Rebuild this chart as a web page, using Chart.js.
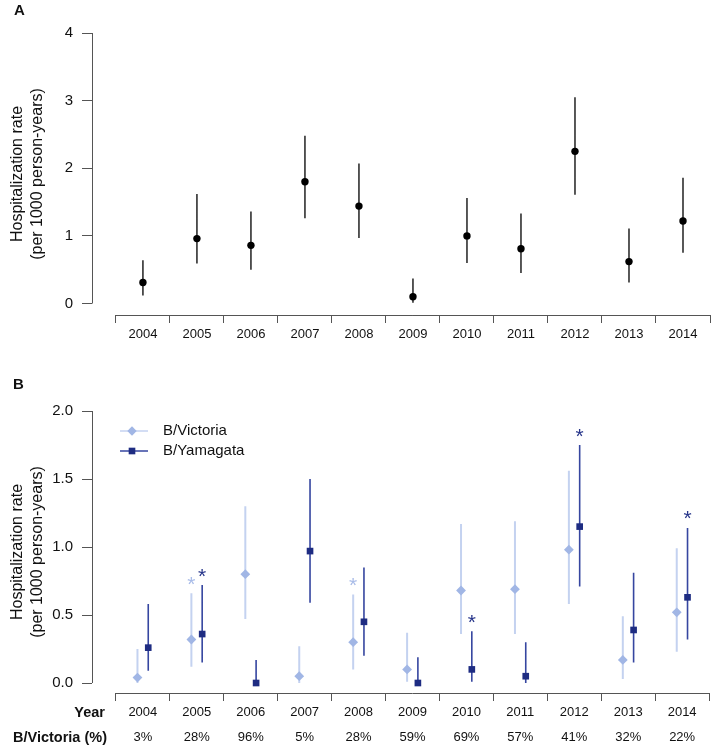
<!DOCTYPE html>
<html>
<head>
<meta charset="utf-8">
<script src="https://cdn.jsdelivr.net/npm/chart.js@4.4.1/dist/chart.umd.min.js"></script>
<style>
  body { margin: 0; background: #fff; }
  #wrap { position: relative; width: 714px; height: 747px; }
  canvas { position: absolute; left: 0; }
</style>
</head>
<body>
<div id="wrap">
  <canvas id="chartA" width="714" height="350" style="top:0"></canvas>
  <canvas id="chartB" width="714" height="397" style="top:350px"></canvas>
</div>
<script>
// data
const years = [2004, 2005, 2006, 2007, 2008, 2009, 2010, 2011, 2012, 2013, 2014];

// panel A: all influenza B
const rateAll = [0.31, 0.96, 0.86, 1.80, 1.44, 0.10, 1.00, 0.81, 2.25, 0.62, 1.22];
const lowAll  = [0.12, 0.59, 0.50, 1.26, 0.97, 0.01, 0.60, 0.45, 1.61, 0.31, 0.75];
const highAll = [0.64, 1.62, 1.36, 2.48, 2.07, 0.37, 1.56, 1.33, 3.05, 1.11, 1.86];

// panel B: by lineage
const vicRate = [0.04, 0.32, 0.80, 0.05, 0.30, 0.10, 0.68, 0.69, 0.98, 0.17, 0.52];
const vicLow  = [0.00, 0.12, 0.47, 0.00, 0.10, 0.01, 0.36, 0.36, 0.58, 0.03, 0.23];
const vicHigh = [0.25, 0.66, 1.30, 0.27, 0.65, 0.37, 1.17, 1.19, 1.56, 0.49, 0.99];
const yamRate = [0.26, 0.36, 0.00, 0.97, 0.45, 0.00, 0.10, 0.05, 1.15, 0.39, 0.63];
const yamLow  = [0.09, 0.15, 0.00, 0.59, 0.20, 0.00, 0.01, 0.00, 0.71, 0.15, 0.32];
const yamHigh = [0.58, 0.72, 0.17, 1.50, 0.85, 0.19, 0.38, 0.30, 1.75, 0.81, 1.14];
const vicStarYears = [2005, 2008];
const yamStarYears = [2005, 2010, 2012, 2014];
const vicPct = ["3%", "28%", "96%", "5%", "28%", "59%", "69%", "57%", "41%", "32%", "22%"];

const ticksA = [0, 1, 2, 3, 4];
const ticksB = [0, 0.5, 1.0, 1.5, 2.0];
const yTitle = ["Hospitalization rate", "(per 1000 person-years)"];

// styling
const FONT = '"Liberation Sans", Arial, Helvetica, sans-serif';
const AXIS = "#555";
const VIC_PT = "#a1b6e5", VIC_CI = "#c4d2f0";
const YAM_PT = "#1e2c82", YAM_CI = "#3646a0";
const OFF = 0.1;             // lineage dodge, in years
const XMIN = 2003.057;       // leaves the R-style gap before the first tick
const XMAX = years[years.length - 1] + 0.5;

Chart.defaults.font.family = FONT;
Chart.defaults.color = "#111";

const pts = (xs, ys) => xs.map((x, i) => ({ x: x, y: ys[i] }));
const ciPts = (xs, lo, hi) => {
  const out = [];
  xs.forEach((x, i) => out.push({ x: x, y: lo[i] }, { x: x, y: hi[i] }, { x: x, y: null }));
  return out;
};
const shift = d => years.map(y => y + d);

function xAxis(height, pad, font, labelFn) {
  return {
    type: "linear", min: XMIN, max: XMAX,
    afterBuildTicks: s => {
      const t = [];
      for (let v = years[0] - 0.5; v <= XMAX; v += 0.5) t.push({ value: v });
      s.ticks = t;
    },
    afterFit: s => { s.height = height; },
    border: { display: false },
    grid: {
      drawOnChartArea: false, tickLength: 8, tickWidth: 1,
      tickColor: c => Number.isInteger(c.tick.value) ? "rgba(0,0,0,0)" : AXIS
    },
    ticks: {
      autoSkip: false, maxRotation: 0, minRotation: 0, padding: pad, font: font, color: "#111",
      callback: v => Number.isInteger(v) ? labelFn(v) : ""
    }
  };
}

function yAxis(min, max, tickVals, dec) {
  return {
    type: "linear", min: min, max: max,
    afterBuildTicks: s => { s.ticks = tickVals.map(v => ({ value: v })); },
    afterFit: s => { s.width = 92; },
    border: { display: false },
    grid: { drawOnChartArea: false, tickLength: 10, tickWidth: 1, tickColor: AXIS },
    ticks: { padding: 9, font: { size: 15 }, color: "#111", callback: v => v.toFixed(dec) },
    title: {
      display: true, text: yTitle, color: "#111",
      font: { size: 16, lineHeight: 1.25 }, padding: { top: 8, bottom: 0 }
    }
  };
}

// R-like detached axis lines, plus fixed labels
const rAxes = {
  id: "rAxes",
  afterDraw(chart, args, opts) {
    const { ctx, chartArea: a, scales: { x, y } } = chart;
    ctx.save();
    ctx.strokeStyle = AXIS;
    ctx.lineWidth = 1;
    ctx.beginPath();
    const lx = Math.round(a.left) + 0.5, by = Math.round(a.bottom) + 0.5;
    ctx.moveTo(lx, y.getPixelForValue(opts.yLo));
    ctx.lineTo(lx, y.getPixelForValue(opts.yHi));
    ctx.moveTo(x.getPixelForValue(years[0] - 0.5), by);
    ctx.lineTo(x.getPixelForValue(XMAX), by);
    ctx.stroke();
    ctx.fillStyle = "#111";
    ctx.textBaseline = "middle";
    (opts.texts || []).forEach(t => {
      ctx.font = t.font;
      ctx.textAlign = t.align || "left";
      ctx.fillText(t.text, t.x, t.y);
    });
    ctx.restore();
  }
};

// significance asterisks above the CI tops
const stars = {
  id: "stars",
  afterDatasetsDraw(chart, args, opts) {
    const { ctx, scales: { x, y } } = chart;
    ctx.save();
    ctx.font = "21px " + FONT;
    ctx.textAlign = "center";
    ctx.textBaseline = "alphabetic";
    const m = ctx.measureText("*");
    const adj = (m.actualBoundingBoxAscent - m.actualBoundingBoxDescent) / 2;
    (opts.sets || []).forEach(s => {
      ctx.fillStyle = s.color;
      s.years.forEach(yr => {
        const i = years.indexOf(yr);
        const px = x.getPixelForValue(yr + s.off);
        const py = y.getPixelForValue(s.high[i]) - 12.5;
        ctx.fillText("*", px, py + adj);
      });
    });
    ctx.restore();
  }
};

// legend drawn R-style (line through marker) inside the plot
const rLegend = {
  id: "rLegend",
  afterDraw(chart, args, opts) {
    const ctx = chart.ctx;
    ctx.save();
    (opts.items || []).forEach((it, k) => {
      const yy = opts.y + k * opts.gap;
      ctx.strokeStyle = it.line;
      ctx.lineWidth = 1.5;
      ctx.beginPath();
      ctx.moveTo(opts.x, yy);
      ctx.lineTo(opts.x + 28, yy);
      ctx.stroke();
      ctx.fillStyle = it.color;
      ctx.strokeStyle = it.color;
      Chart.helpers.drawPoint(ctx, { pointStyle: it.style, radius: 4.7, rotation: 0, borderWidth: 0 }, opts.x + 12, yy);
      ctx.fillStyle = "#111";
      ctx.font = "15px " + FONT;
      ctx.textAlign = "left";
      ctx.textBaseline = "middle";
      ctx.fillText(it.text, opts.x + 43, yy);
    });
    ctx.restore();
  }
};

// Panel A
new Chart(document.getElementById("chartA"), {
  type: "line",
  data: {
    datasets: [
      {
        label: "Influenza B", data: pts(years, rateAll), showLine: false,
        pointStyle: "circle", pointRadius: 3.7, pointBackgroundColor: "#000",
        pointBorderWidth: 0
      },
      {
        label: "95% CI", data: ciPts(years, lowAll, highAll),
        borderColor: "#222", borderWidth: 1.5, pointRadius: 0, spanGaps: false, fill: false
      }
    ]
  },
  options: {
    responsive: false,
    animation: false,
    events: [],
    layout: { padding: { top: 33, right: 2, left: 0, bottom: 0 } },
    scales: {
      x: xAxis(35, 4, { size: 13 }, v => String(v)),
      y: yAxis(-0.17, 4, ticksA, 0)
    },
    plugins: {
      legend: { display: false },
      tooltip: { enabled: false },
      rAxes: { yLo: 0, yHi: 4, texts: [{ text: "A", x: 14, y: 11, font: "bold 15px " + FONT }] }
    }
  },
  plugins: [rAxes]
});

// Panel B
new Chart(document.getElementById("chartB"), {
  type: "line",
  data: {
    datasets: [
      {
        label: "B/Yamagata", data: pts(shift(OFF), yamRate), showLine: false,
        pointStyle: "rect", pointRadius: 4.7, pointBackgroundColor: YAM_PT, pointBorderWidth: 0
      },
      {
        label: "B/Victoria", data: pts(shift(-OFF), vicRate), showLine: false,
        pointStyle: "rectRot", pointRadius: 4.9, pointBackgroundColor: VIC_PT, pointBorderWidth: 0
      },
      {
        label: "B/Yamagata CI", data: ciPts(shift(OFF), yamLow, yamHigh),
        borderColor: YAM_CI, borderWidth: 1.6, pointRadius: 0, spanGaps: false, fill: false
      },
      {
        label: "B/Victoria CI", data: ciPts(shift(-OFF), vicLow, vicHigh),
        borderColor: VIC_CI, borderWidth: 2, pointRadius: 0, spanGaps: false, fill: false
      }
    ]
  },
  options: {
    responsive: false,
    animation: false,
    events: [],
    layout: { padding: { top: 61, right: 2, left: 0, bottom: 0 } },
    scales: {
      x: xAxis(54, -1, { size: 13, lineHeight: 25 / 13 }, v => [String(v), vicPct[years.indexOf(v)]]),
      y: yAxis(-0.0735, 2, ticksB, 1)
    },
    plugins: {
      legend: { display: false },
      tooltip: { enabled: false },
      rAxes: {
        yLo: 0, yHi: 2,
        texts: [
          { text: "B", x: 13, y: 35, font: "bold 15px " + FONT },
          { text: "Year", x: 105, y: 363, align: "right", font: "bold 14.5px " + FONT },
          { text: "B/Victoria (%)", x: 107, y: 388, align: "right", font: "bold 14.5px " + FONT }
        ]
      },
      stars: {
        sets: [
          { years: vicStarYears, off: -OFF, high: vicHigh, color: "#a9bce8" },
          { years: yamStarYears, off: OFF, high: yamHigh, color: "#27358a" }
        ]
      },
      rLegend: {
        x: 120, y: 81, gap: 20,
        items: [
          { text: "B/Victoria", color: VIC_PT, line: VIC_CI, style: "rectRot" },
          { text: "B/Yamagata", color: YAM_PT, line: YAM_CI, style: "rect" }
        ]
      }
    }
  },
  plugins: [rAxes, stars, rLegend]
});
</script>
</body>
</html>
